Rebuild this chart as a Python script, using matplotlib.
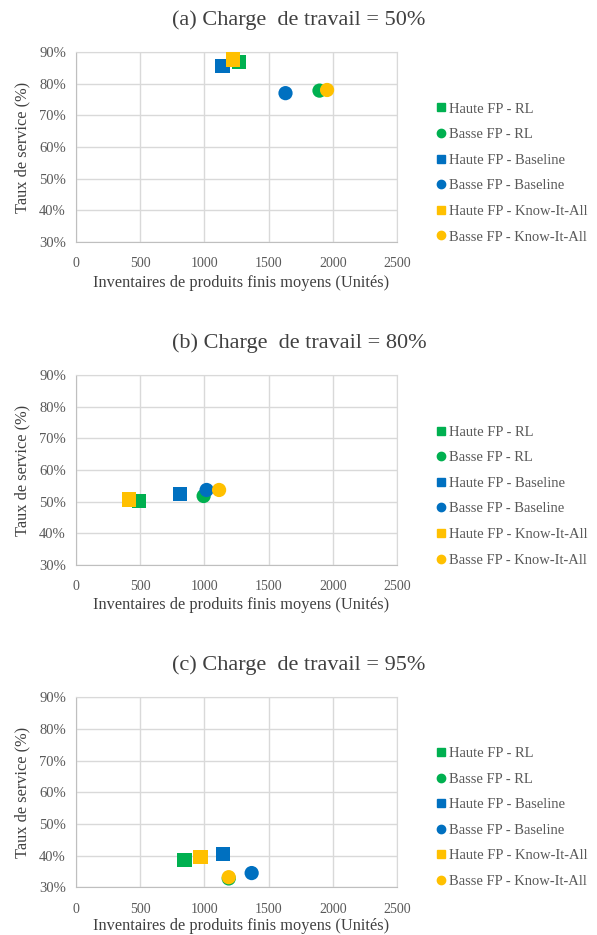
import matplotlib.pyplot as plt
from matplotlib.lines import Line2D
from matplotlib.ticker import PercentFormatter

# series order as in the legend
labels = ["Haute FP - RL", "Basse FP - RL", "Haute FP - Baseline",
          "Basse FP - Baseline", "Haute FP - Know-It-All", "Basse FP - Know-It-All"]
colors = ["#00B050", "#00B050", "#0070C0", "#0070C0", "#FFC000", "#FFC000"]
markers = ["s", "o", "s", "o", "s", "o"]

titles = ["(a) Charge  de travail = 50%", "(b) Charge  de travail = 80%",
          "(c) Charge  de travail = 95%"]

# inventory (x) and service rate in % (y), one value per series
inv_50 = [1269, 1894, 1140, 1630, 1223, 1953]
svc_50 = [86.8, 77.8, 85.6, 77.0, 87.6, 78.0]

inv_80 = [490, 994, 808, 1017, 414, 1114]
svc_80 = [50.2, 51.8, 52.4, 53.7, 50.7, 53.7]

inv_95 = [845, 1189, 1142, 1367, 969, 1189]
svc_95 = [38.6, 32.8, 40.5, 34.5, 39.6, 33.2]

xticks = [0, 500, 1000, 1500, 2000, 2500]
yticks = [30, 40, 50, 60, 70, 80, 90]

plt.rcParams['font.family'] = ['Liberation Serif', 'DejaVu Serif']
txt_col = "#595959"
grid_col = "#D9D9D9"

fig = plt.figure(figsize=(5.97, 9.35), dpi=100)

# (bottom, title_y, legend_center_y, xlabel_y) in figure fractions
panels = [
    (inv_50, svc_50, 0.7412, 1 - 20 / 935, 0.815, 1 - 283 / 935),
    (inv_80, svc_80, 0.3957, 1 - 343 / 935, 0.4695, 1 - 605 / 935),
    (inv_95, svc_95, 0.0510, 1 - 665 / 935, 0.1257, 1 - 926 / 935),
]

for i, (xs, ys, bottom, ty, ly, xly) in enumerate(panels):
    ax = fig.add_axes([0.1268, bottom, 0.539, 0.2032])
    for k in range(len(labels)):
        ax.scatter(xs[k], ys[k], s=105, marker=markers[k], color=colors[k],
                   edgecolors='none', zorder=3 + k, clip_on=False)
    ax.set_xlim(0, 2500)
    ax.set_ylim(30, 90)
    ax.set_xticks(xticks)
    ax.set_yticks(yticks)
    ax.yaxis.set_major_formatter(PercentFormatter(decimals=0))
    ax.grid(True, color=grid_col, linewidth=1.0)
    ax.set_axisbelow(True)
    for sp in ax.spines.values():
        sp.set_color(grid_col)
    ax.spines['left'].set_color("#BFBFBF")
    ax.spines['bottom'].set_color("#BFBFBF")
    ax.tick_params(axis='x', length=0, labelsize=10, colors=txt_col, pad=11)
    ax.tick_params(axis='y', length=0, labelsize=10.5, colors=txt_col, pad=7)
    ax.set_ylabel("Taux de service (%)", fontsize=11.8, color="#404040", labelpad=6)

    fig.text(0.501, ty, titles[i], ha='center', va='center', fontsize=16, color="#404040")
    fig.text(0.403, xly, "Inventaires de produits finis moyens (Unités)",
             ha='center', va='center', fontsize=11.8, color="#404040")

    handles = [Line2D([], [], linestyle='none', marker=markers[k], color=colors[k],
                      markersize=5.5 if markers[k] == 's' else 6) for k in range(len(labels))]
    fig.legend(handles, labels, loc='center left', bbox_to_anchor=(0.731, ly),
               frameon=False, fontsize=10.5, labelcolor=txt_col, handlelength=0.6,
               handletextpad=0.25, labelspacing=0.85, borderpad=0, borderaxespad=0)

fig.savefig("out.png", dpi=100)
